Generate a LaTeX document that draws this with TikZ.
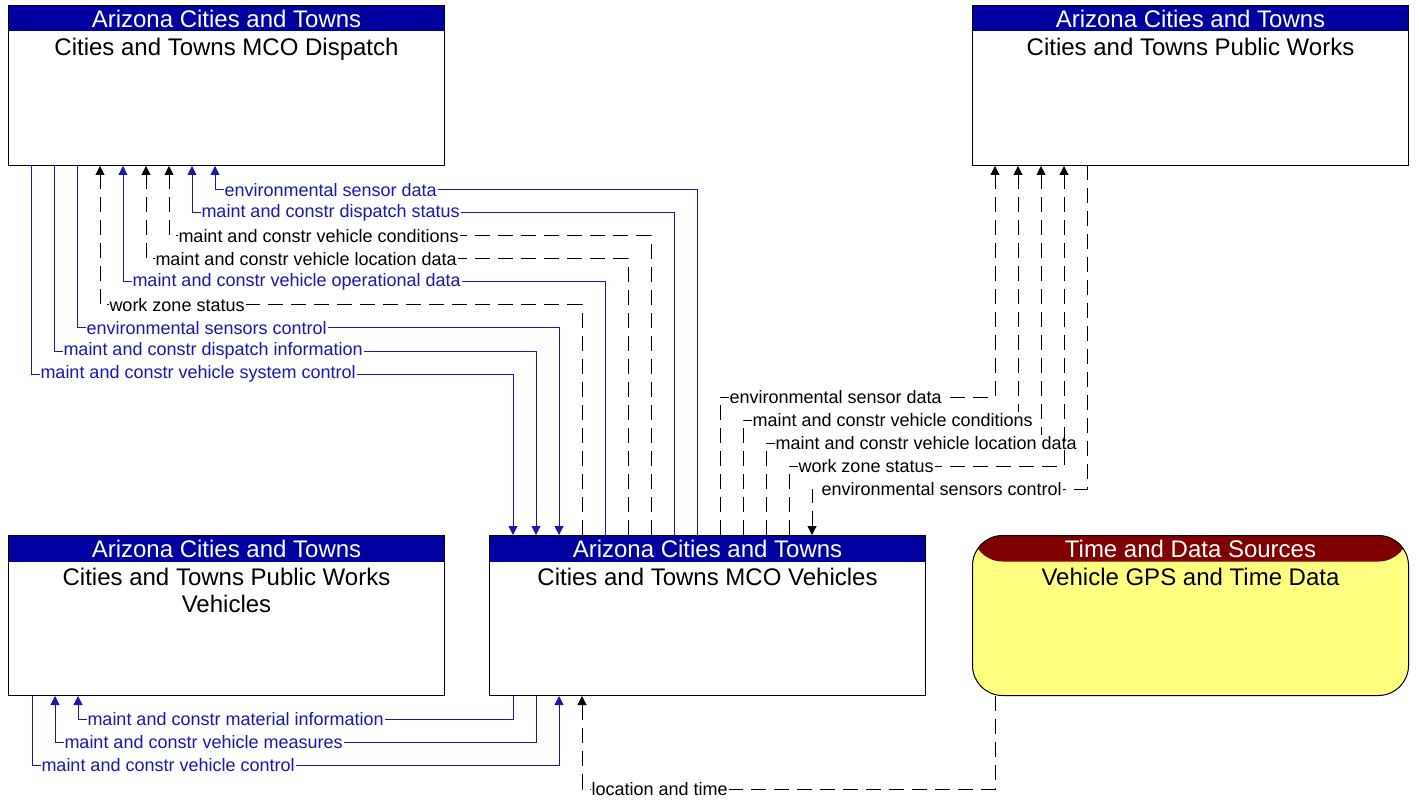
\documentclass[tikz,border=0pt]{standalone}
\usepackage{fontspec}
\setmainfont{Liberation Sans}
\usepackage{xcolor}
\usepackage{tikz}
\usetikzlibrary{positioning,calc,arrows.meta}
\definecolor{azBlue}{RGB}{0,0,160}
\definecolor{azFlow}{RGB}{24,24,170}
\definecolor{azMaroon}{RGB}{128,0,0}
\definecolor{azYellow}{RGB}{255,255,128}

\tikzset{
    sysbox/.style={draw, line width=1pt, fill=white, anchor=north west, inner sep=0pt,
        minimum width=436pt, minimum height=160pt,
        path picture={\fill[#1] (path picture bounding box.north west)
            rectangle ([yshift=-26pt]path picture bounding box.north east);}},
    headtxt/.style={text=white, font=\fontsize{24}{27}\selectfont, inner sep=0pt},
    nametxt/.style={anchor=north, align=center, font=\fontsize{24}{27}\selectfont, inner sep=0pt},
    bflow/.style={color=azFlow, line width=1pt},
    kflow/.style={color=black, line width=1pt, dash pattern=on 15pt off 8pt},
    tipend/.style={-{Triangle[width=9pt,length=9pt]}},
    tipstart/.style={{Triangle[width=9pt,length=9pt]}-},
    lbl/.style={anchor=west, fill=white, inner sep=1pt, font=\fontsize{18}{20}\selectfont}
}

\begin{document}
\begin{tikzpicture}[x=1pt, y=-1pt]
    \useasboundingbox (0,0) rectangle (1419,802);

    % Systems
    \node[sysbox=azBlue] (disp) at (8,5) {};
    \node[headtxt] (dispH) at ([yshift=-14pt]disp.north) {Arizona Cities and Towns};
    \node[nametxt] (dispN) at ([yshift=-33pt]disp.north) {Cities and Towns MCO Dispatch};

    \node[sysbox=azBlue] (pubw) at (972,5) {};
    \node[headtxt] (pubwH) at ([yshift=-14pt]pubw.north) {Arizona Cities and Towns};
    \node[nametxt] (pubwN) at ([yshift=-33pt]pubw.north) {Cities and Towns Public Works};

    \node[sysbox=azBlue] (pwv) at (8,535) {};
    \node[headtxt] (pwvH) at ([yshift=-14pt]pwv.north) {Arizona Cities and Towns};
    \node[nametxt] (pwvN) at ([yshift=-33pt]pwv.north) {Cities and Towns Public Works\\Vehicles};

    \node[sysbox=azBlue] (veh) at (489,535) {};
    \node[headtxt] (vehH) at ([yshift=-14pt]veh.north) {Arizona Cities and Towns};
    \node[nametxt] (vehN) at ([yshift=-33pt]veh.north) {Cities and Towns MCO Vehicles};

    \node[sysbox=azMaroon, fill=azYellow, rounded corners=30pt] (gps) at (972,535) {};
    \node[headtxt] (gpsH) at ([yshift=-14pt]gps.north) {Time and Data Sources};
    \node[nametxt] (gpsN) at ([yshift=-33pt]gps.north) {Vehicle GPS and Time Data};

    % Dispatch <-> MCO Vehicles
    \foreach \k/\f/\t/\txt in {
        8/bflow/tipend/environmental sensor data,
        7/bflow/tipend/maint and constr dispatch status,
        6/kflow/tipend/maint and constr vehicle conditions,
        5/kflow/tipend/maint and constr vehicle location data,
        4/bflow/tipend/maint and constr vehicle operational data,
        3/kflow/tipend/work zone status,
        2/bflow/tipstart/environmental sensors control,
        1/bflow/tipstart/maint and constr dispatch information,
        0/bflow/tipstart/maint and constr vehicle system control} {
        \coordinate (c\k) at ([xshift={(23+23*\k)*1pt}, yshift={-(24+23*(8-\k))*1pt}]disp.south west);
        \draw[\f,\t] ([xshift={(24+23*\k)*1pt}]veh.north west) |- (c\k)
            -- ([xshift={(23+23*\k)*1pt}]disp.south west);
        \node[\f,lbl] (cl\k) at ([xshift=8pt]c\k) {\txt};
    }

    % Public Works <-> MCO Vehicles
    \foreach \k/\t/\txt in {
        0/tipend/environmental sensor data,
        1/tipend/maint and constr vehicle conditions,
        2/tipend/maint and constr vehicle location data,
        3/tipend/work zone status,
        4/tipstart/environmental sensors control} {
        \coordinate (p\k) at ([xshift={(231+23*\k)*1pt}, yshift={(138-23*\k)*1pt}]veh.north west);
        \draw[kflow,\t] ([xshift={(231+23*\k)*1pt}]veh.north west) -- (p\k)
            -| ([xshift={(23+23*\k)*1pt}]pubw.south west);
        \node[kflow,lbl] (pl\k) at ([xshift=8pt]p\k) {\txt};
    }

    % MCO Vehicles <-> Public Works Vehicles
    \foreach \k/\t/\txt in {
        0/tipend/maint and constr material information,
        1/tipend/maint and constr vehicle measures,
        2/tipstart/maint and constr vehicle control} {
        \coordinate (m\k) at ([xshift={(70-23*\k)*1pt}, yshift={-(23+23*\k)*1pt}]pwv.south west);
        \draw[bflow,\t] ([xshift={(24+23*\k)*1pt}]veh.south west) |- (m\k)
            -- ([xshift={(70-23*\k)*1pt}]pwv.south west);
        \node[bflow,lbl] (ml\k) at ([xshift=8pt]m\k) {\txt};
    }

    % GPS -> MCO Vehicles
    \coordinate (g) at ([xshift=93pt, yshift=-93pt]veh.south west);
    \draw[kflow,tipend] ([xshift=23pt]gps.south west) |- (g) -- ([xshift=93pt]veh.south west);
    \node[kflow,lbl] (gl) at ([xshift=8pt]g) {location and time};

\end{tikzpicture}
\end{document}
